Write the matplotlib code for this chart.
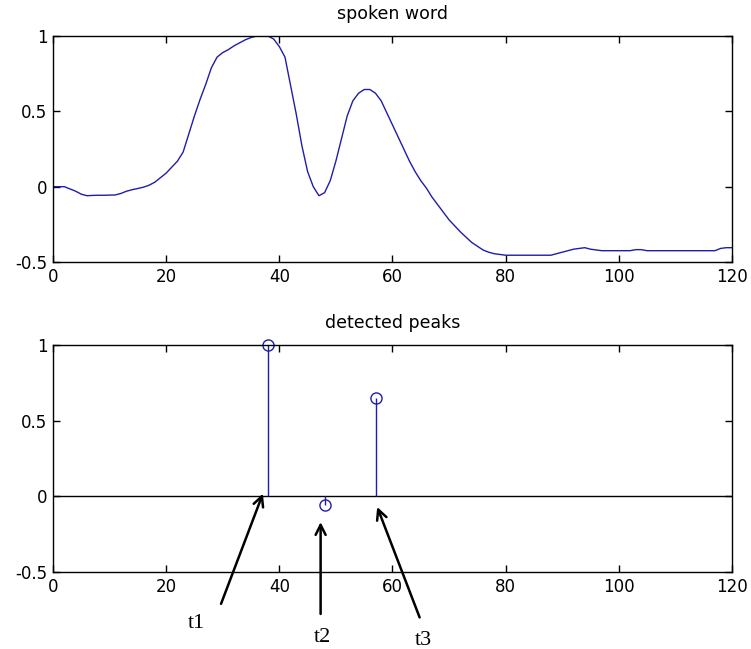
import matplotlib
matplotlib.use("Agg")
import matplotlib.pyplot as plt
import numpy as np

# Normalised amplitude envelope of the spoken word, one value per sample 0..120
sample_index = list(range(121))
word_envelope = [
    0.0, 0.0, 0.0, -0.015, -0.03, -0.05, -0.06, -0.058, -0.057, -0.057,
    -0.056, -0.055, -0.045, -0.03, -0.02, -0.012, -0.003, 0.01, 0.03, 0.06,
    0.09, 0.13, 0.17, 0.23, 0.35, 0.47, 0.58, 0.68, 0.79, 0.86,
    0.89, 0.91, 0.935, 0.955, 0.975, 0.99, 1.0, 1.0, 1.0, 0.98,
    0.93, 0.86, 0.67, 0.48, 0.27, 0.1, 0.0, -0.06, -0.04, 0.04,
    0.17, 0.32, 0.47, 0.57, 0.62, 0.645, 0.645, 0.62, 0.57, 0.49,
    0.41, 0.33, 0.25, 0.17, 0.1, 0.04, -0.01, -0.07, -0.12, -0.17,
    -0.22, -0.26, -0.3, -0.335, -0.37, -0.395, -0.42, -0.435, -0.445, -0.45,
    -0.455, -0.455, -0.455, -0.455, -0.455, -0.455, -0.455, -0.455, -0.455, -0.445,
    -0.435, -0.425, -0.415, -0.41, -0.405, -0.415, -0.42, -0.425, -0.425, -0.425,
    -0.425, -0.425, -0.425, -0.418, -0.418, -0.425, -0.425, -0.425, -0.425, -0.425,
    -0.425, -0.425, -0.425, -0.425, -0.425, -0.425, -0.425, -0.425, -0.41, -0.405,
    -0.405,
]

# Detected peaks
peak_positions = [38, 48, 57]
peak_values = [1.0, -0.06, 0.65]
peak_names = ["t1", "t2", "t3"]

x_ticks = [0, 20, 40, 60, 80, 100, 120]
y_ticks = [-0.5, 0, 0.5, 1]
y_tick_labels = ["-0.5", "0", "0.5", "1"]

line_color = "#1e1ea8"

fig = plt.figure(figsize=(7.51, 6.49), dpi=100)
ax_top = fig.add_axes([0.0706, 0.5963, 0.904, 0.3482])
ax_bot = fig.add_axes([0.0706, 0.1186, 0.904, 0.3498])


def style_axes(ax, title):
    ax.set_xlim(0, 120)
    ax.set_ylim(-0.5, 1)
    ax.set_xticks(x_ticks)
    ax.set_xticklabels([str(t) for t in x_ticks])
    ax.set_yticks(y_ticks)
    ax.set_yticklabels(y_tick_labels)
    ax.tick_params(direction="in", length=5, width=1, top=True, right=True,
                   labelsize=12, pad=4, colors="black")
    for sp in ax.spines.values():
        sp.set_linewidth(1.0)
        sp.set_color("black")
    ax.set_title(title, fontsize=12.5, pad=12)


ax_top.plot(sample_index, word_envelope, color=line_color, lw=1.0)
style_axes(ax_top, "spoken word")

ax_bot.axhline(0, color="black", lw=1.0, zorder=1)
markerline, stemlines, baseline = ax_bot.stem(peak_positions, peak_values, basefmt=" ")
plt.setp(stemlines, color=line_color, linewidth=1.0)
plt.setp(markerline, marker="o", markersize=8, markerfacecolor="none",
         markeredgecolor=line_color, markeredgewidth=1.0, clip_on=False)
style_axes(ax_bot, "detected peaks")

# Arrows pointing at each detected peak, with their labels below the axis
arrow_tips = [(37.1, 0.018), (47.3, -0.17), (57.3, -0.07)]
arrow_tails = [(29.7, -0.71), (47.3, -0.777), (64.8, -0.80)]
label_spots = [(25.4, -0.843), (47.7, -0.93), (65.4, -0.95)]
for name, tip, tail, spot in zip(peak_names, arrow_tips, arrow_tails, label_spots):
    ax_bot.annotate("", xy=tip, xytext=tail, annotation_clip=False,
                    arrowprops=dict(arrowstyle="->", lw=1.8, color="black",
                                    mutation_scale=18, shrinkA=0, shrinkB=0))
    ax_bot.text(spot[0], spot[1], name, ha="center", va="center",
                fontsize=16, family="Liberation Serif", clip_on=False)

fig.savefig("out.png", dpi=100)
